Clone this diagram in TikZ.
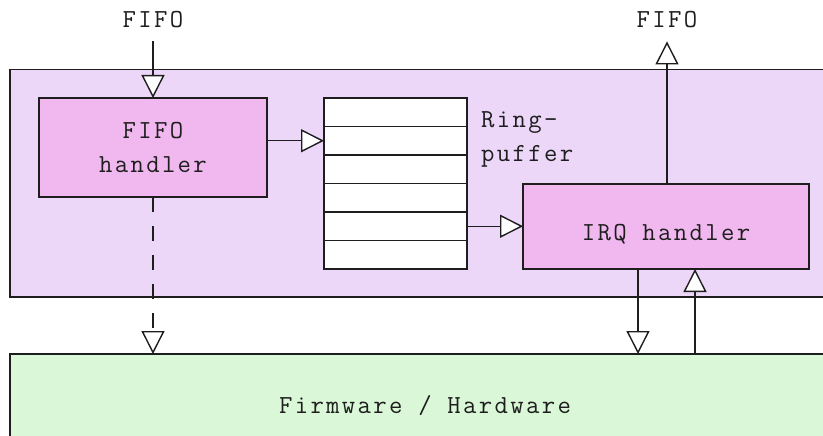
\documentclass[tikz,border=0pt]{standalone}
\usepackage{fontspec}
\setmonofont{Latin Modern Mono}[LetterSpace=9]
\usetikzlibrary{arrows.meta,calc}
\definecolor{lav}{RGB}{237,215,249}
\definecolor{pinkbox}{RGB}{240,184,238}
\definecolor{hwgreen}{RGB}{218,248,216}
\definecolor{ink}{RGB}{30,30,30}
\begin{document}
\begin{tikzpicture}[x=1pt,y=-1pt,
  every node/.style={font=\ttfamily\fontsize{26}{34}\selectfont, text=ink},
  box/.style={draw=ink, line width=1.4pt, inner sep=0pt, outer sep=0pt},
  lbl/.style={inner sep=0pt},
  conn/.style={draw=ink, line width=1.4pt, -{Triangle[fill=white, length=23pt, width=23pt, line width=1.4pt]}}]
\clip (0,0) rectangle (823,436);
\fill[white] (0,0) rectangle (823,436);
% containers
\node[box, fill=lav, minimum width=830pt, minimum height=227.5pt, anchor=north west] (os) at (10,69.5) {};
\node[box, fill=hwgreen, minimum width=830pt, minimum height=104pt, anchor=north west, align=center] (fw) at (10,354) {Firmware / Hardware};
% handlers
\node[box, fill=pinkbox, minimum width=228pt, minimum height=99pt, anchor=north west, align=center] (handler) at (39,98) {FIFO\\handler};
\node[box, fill=pinkbox, minimum width=286pt, minimum height=85pt, anchor=north west] (irq) at (523,184) {};
\node[lbl] (irqtext) at (666,234) {IRQ handler};
% ring buffer
\node[box, fill=white, minimum width=143pt, minimum height=171pt, anchor=north west] (ring) at (324,98) {};
\foreach \i in {1,...,5} {
  \draw[draw=ink, line width=1.4pt] ($(ring.north west)!\i/6!(ring.south west)$) -- ($(ring.north east)!\i/6!(ring.south east)$);
}
\coordinate (slot2) at ($(ring.north west)!1.5/6!(ring.south west)$);
\coordinate (slot5) at ($(ring.north east)!4.5/6!(ring.south east)$);
\node[lbl, anchor=west, align=left] (ringlbl) at (481,139) {Ring-\\puffer};
% labels
\node[lbl] (fifoin) at (153,20) {FIFO};
\node[lbl] (fifoout) at (667,20) {FIFO};
% connectors
\draw[conn, shorten <=13pt] (fifoin) -- (handler);
\draw[conn] (handler.east |- slot2) -- (slot2);
\draw[conn] (slot5) -- (irq.west |- slot5);
\draw[conn, shorten >=13pt] (irq.north -| fifoout) -- (fifoout);
\draw[conn, dash pattern=on 15pt off 14pt] (handler.south) -- (handler.south |- fw.north);
\draw[conn] ([xshift=-28pt]irq.south) -- ([xshift=-28pt]irq.south |- fw.north);
\draw[conn] ([xshift=29pt]irq.south |- fw.north) -- ([xshift=29pt]irq.south);
\end{tikzpicture}
\end{document}
